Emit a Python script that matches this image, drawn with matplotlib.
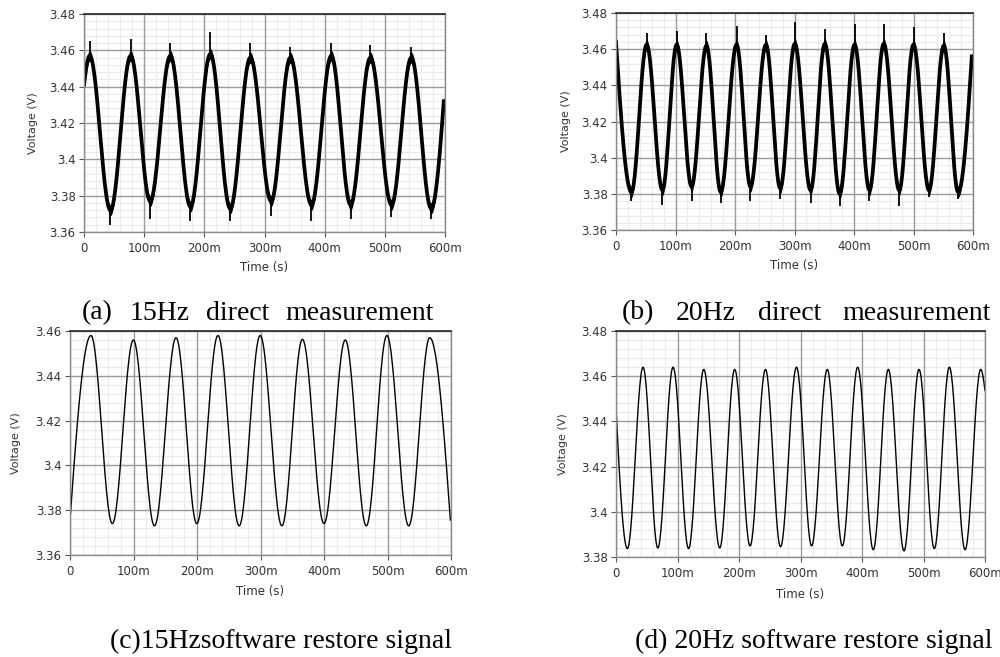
import numpy as np
import matplotlib
matplotlib.use('Agg')
import matplotlib.pyplot as plt
from matplotlib.ticker import FixedLocator, FixedFormatter

# ---------------- data ----------------
# (a) 15 Hz direct measurement: knots of the trace centre (start, extrema, end)
a_t = [0.000, 0.0094, 0.044, 0.0776, 0.110, 0.1435, 0.177, 0.210, 0.243, 0.2765,
       0.311, 0.343, 0.378, 0.411, 0.443, 0.476, 0.511, 0.544, 0.577, 0.598]
a_v = [3.441, 3.457, 3.372, 3.457, 3.377, 3.457, 3.374, 3.458, 3.373, 3.456,
       3.377, 3.456, 3.375, 3.457, 3.375, 3.456, 3.375, 3.456, 3.373, 3.432]
# noise spike extremes at each interior extremum
a_spike = [3.465, 3.364, 3.466, 3.367, 3.464, 3.366, 3.470, 3.366, 3.464,
           3.369, 3.462, 3.366, 3.464, 3.367, 3.463, 3.368, 3.462, 3.367]

# (b) 20 Hz direct measurement
b_t = [0.000, 0.026, 0.0515, 0.078, 0.102, 0.127, 0.152, 0.176, 0.2026, 0.226,
       0.252, 0.276, 0.3005, 0.327, 0.351, 0.376, 0.401, 0.426, 0.450, 0.476,
       0.500, 0.526, 0.551, 0.575, 0.598]
b_v = [3.464, 3.381, 3.4625, 3.382, 3.4625, 3.384, 3.462, 3.381, 3.4625, 3.384,
       3.4625, 3.383, 3.463, 3.382, 3.463, 3.380, 3.4625, 3.382, 3.463, 3.382,
       3.4625, 3.382, 3.462, 3.381, 3.456]
b_spike = [3.376, 3.469, 3.374, 3.470, 3.376, 3.469, 3.375, 3.473, 3.376, 3.468,
           3.377, 3.475, 3.375, 3.471, 3.373, 3.474, 3.376, 3.474, 3.373, 3.472,
           3.378, 3.469, 3.377]

# (c) 15 Hz software restore signal
c_t = [0.000, 0.033, 0.0667, 0.0998, 0.133, 0.167, 0.1997, 0.233, 0.2664, 0.2995,
       0.3337, 0.366, 0.400, 0.4335, 0.4666, 0.499, 0.5334, 0.5665, 0.599]
c_v = [3.3756, 3.458, 3.374, 3.456, 3.373, 3.457, 3.374, 3.458, 3.373, 3.458,
       3.373, 3.4563, 3.374, 3.456, 3.373, 3.458, 3.373, 3.457, 3.3756]

# (d) 20 Hz software restore signal
d_t = [0.000, 0.0185, 0.044, 0.068, 0.0928, 0.118, 0.1427, 0.1687, 0.193, 0.218,
       0.243, 0.2675, 0.2935, 0.318, 0.3435, 0.368, 0.393, 0.4183, 0.4428, 0.4683,
       0.4927, 0.5176, 0.542, 0.5676, 0.593, 0.600]
d_v = [3.4456, 3.3837, 3.464, 3.384, 3.464, 3.3837, 3.463, 3.384, 3.463, 3.3849,
       3.463, 3.3845, 3.464, 3.3849, 3.463, 3.3849, 3.464, 3.3832, 3.463, 3.3827,
       3.463, 3.3837, 3.464, 3.3832, 3.463, 3.4537]

x_ticks = [0.0, 0.1, 0.2, 0.3, 0.4, 0.5, 0.6]
x_ticklabels = ["0", "100m", "200m", "300m", "400m", "500m", "600m"]
y_ticks_1 = [3.36, 3.38, 3.40, 3.42, 3.44, 3.46, 3.48]
y_ticklabels_1 = ["3.36", "3.38", "3.4", "3.42", "3.44", "3.46", "3.48"]
y_ticks_c = [3.36, 3.38, 3.40, 3.42, 3.44, 3.46]
y_ticklabels_c = ["3.36", "3.38", "3.4", "3.42", "3.44", "3.46"]
y_ticks_d = [3.38, 3.40, 3.42, 3.44, 3.46, 3.48]
y_ticklabels_d = ["3.38", "3.4", "3.42", "3.44", "3.46", "3.48"]

caption_a = ["(a)", "15Hz", "direct", "measurement"]
caption_b = ["(b)", "20Hz", "direct", "measurement"]
caption_c = "(c)15Hzsoftware restore signal"
caption_d = "(d) 20Hz software restore signal"
x_label = "Time (s)"
y_label = "Voltage (V)"

# ---------------- drawing ----------------
def trace(tk, vk, n=30):
    """Smooth waveform through the read knots (cosine-shaped segments)."""
    T, V = [], []
    last = len(tk) - 2
    for i in range(len(tk) - 1):
        s = np.linspace(0, 1, n)
        if i == 0:
            w = np.sin(np.pi / 2 * s)
        elif i == last:
            w = 1 - np.cos(np.pi / 2 * s)
        else:
            w = (1 - np.cos(np.pi * s)) / 2
        T.append(tk[i] + (tk[i + 1] - tk[i]) * s)
        V.append(vk[i] + (vk[i + 1] - vk[i]) * w)
    return np.concatenate(T), np.concatenate(V)


fig = plt.figure(figsize=(10, 6.57), dpi=100)
W, H = 1000, 657


def make_ax(l, r, t, b):
    return fig.add_axes([l / W, 1 - b / H, (r - l) / W, (b - t) / H])


def minor_locs(lo, hi, major_step, nsub):
    step = major_step / nsub
    n = int(round((hi - lo) / step))
    return [lo + k * step for k in range(n + 1) if k % nsub != 0]


def style(ax, ylim, yt, ytl, ylab_x):
    ax.set_xlim(0, 0.6)
    ax.set_ylim(*ylim)
    ax.xaxis.set_major_locator(FixedLocator(x_ticks))
    ax.xaxis.set_major_formatter(FixedFormatter(x_ticklabels))
    ax.yaxis.set_major_locator(FixedLocator(yt))
    ax.yaxis.set_major_formatter(FixedFormatter(ytl))
    # grid: light minor lines first, darker major lines on top
    for x in minor_locs(0, 0.6, 0.1, 5):
        ax.axvline(x, color='#ebebeb', lw=0.8, zorder=0.1)
    for y in minor_locs(ylim[0], ylim[1], 0.02, 5):
        ax.axhline(y, color='#ebebeb', lw=0.8, zorder=0.1)
    for x in x_ticks:
        ax.axvline(x, color='#9a9a9a', lw=1.0, zorder=0.2)
    for y in yt:
        ax.axhline(y, color='#9a9a9a', lw=1.0, zorder=0.2)
    ax.tick_params(which='major', length=3.5, width=0.8, color='#555555',
                   labelsize=8.5, labelcolor='#333333', pad=2.5)
    ax.tick_params(axis='x', pad=3.5)
    for side in ['left', 'right', 'bottom']:
        ax.spines[side].set_color('#8a8a8a')
        ax.spines[side].set_linewidth(1.0)
    ax.spines['top'].set_color('#222222')
    ax.spines['top'].set_linewidth(1.2)
    ax.set_xlabel(x_label, fontsize=8.5, color='#333333')
    ax.set_ylabel(y_label, fontsize=8, color='#333333')
    ax.xaxis.set_label_coords(0.5, -0.165)
    ax.xaxis.label.set_verticalalignment('center')
    ax.yaxis.set_label_coords(ylab_x, 0.5)
    ax.yaxis.label.set_verticalalignment('center')


def noisy(ax, tk, vk, spikes):
    T, V = trace(tk, vk)
    ax.fill_between(T, V - 0.003, V + 0.003, color='black', lw=0, zorder=2)
    ax.plot(T, V, color='black', lw=2.7, zorder=2)
    ax.vlines(tk[1:-1], vk[1:-1], spikes, color='black', lw=1.3, zorder=2)


# (a)
ax_a = make_ax(84, 445, 14, 232)
style(ax_a, (3.36, 3.48), y_ticks_1, y_ticklabels_1, -0.141)
noisy(ax_a, a_t, a_v, a_spike)

# (b)
ax_b = make_ax(616, 973, 13, 230)
style(ax_b, (3.36, 3.48), y_ticks_1, y_ticklabels_1, -0.14)
noisy(ax_b, b_t, b_v, b_spike)

# (c)
ax_c = make_ax(70, 451, 331, 555)
style(ax_c, (3.36, 3.46), y_ticks_c, y_ticklabels_c, -0.142)
T, V = trace(c_t, c_v)
ax_c.plot(T, V, color='black', lw=1.0, zorder=2)

# (d)
ax_d = make_ax(616, 985, 331, 557)
style(ax_d, (3.38, 3.48), y_ticks_d, y_ticklabels_d, -0.144)
T, V = trace(d_t, d_v)
ax_d.plot(T, V, color='black', lw=1.0, zorder=2)

# captions
cap_kw = dict(family='Liberation Serif', fontsize=20, va='center', ha='left', color='black')
for word, x in zip(caption_a, [82, 130, 206, 285]):
    fig.text(x / W, 1 - 313 / H, word, **cap_kw)
for word, x in zip(caption_b, [622, 676, 758, 842]):
    fig.text(x / W, 1 - 313 / H, word, **cap_kw)
fig.text(110 / W, 1 - 641 / H, caption_c, **cap_kw)
fig.text(635 / W, 1 - 641 / H, caption_d, **cap_kw)

fig.savefig('out.png', dpi=100)
